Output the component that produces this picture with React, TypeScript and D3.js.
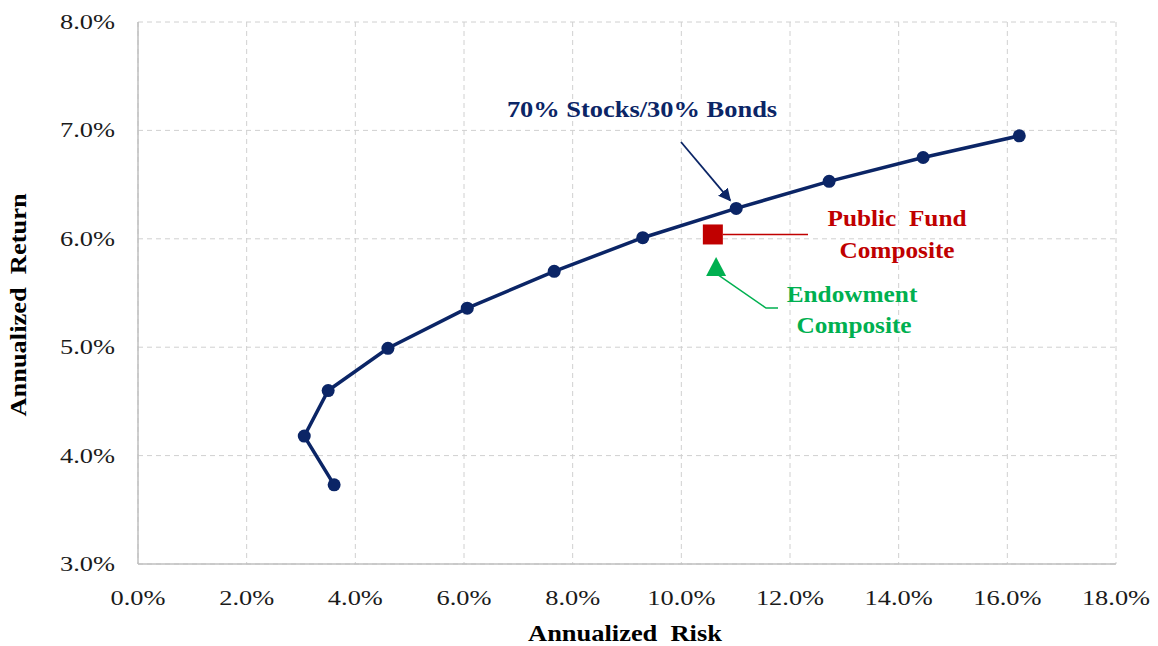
import React from "react";
import * as d3 from "d3";

const riskValues = [3.61, 3.06, 3.5, 4.6, 6.06, 7.66, 9.29, 11.01, 12.72, 14.45, 16.22];
const returnValues = [3.73, 4.18, 4.6, 4.99, 5.36, 5.7, 6.01, 6.28, 6.53, 6.75, 6.95];
const publicFund = { risk: 10.58, ret: 6.04 };
const endowment = { risk: 10.64, ret: 5.74 };
const xTicks = [0, 2, 4, 6, 8, 10, 12, 14, 16, 18];
const yTicks = [3, 4, 5, 6, 7, 8];

const W = 1158;
const H = 646;
const left = 138;
const right = 1116;
const top = 22;
const bottom = 564;
const navy = "#0b2566";
const red = "#c00000";
const green = "#00b050";
const font = "'Liberation Serif', 'Times New Roman', serif";

function T(props: {
  x: number;
  y: number;
  size: number;
  sx: number;
  anchor: string;
  fill: string;
  bold?: boolean;
  rotate?: number;
  children: string;
}) {
  const { x, y, size, sx, anchor, fill, bold, rotate, children } = props;
  return (
    <g transform={`translate(${x},${y}) rotate(${rotate || 0}) scale(${sx},1)`}>
      <text
        x={0}
        y={0}
        textAnchor={anchor}
        fontFamily={font}
        fontSize={size}
        fontWeight={bold ? "bold" : "normal"}
        fill={fill}
        style={{ whiteSpace: "pre" }}
      >
        {children}
      </text>
    </g>
  );
}

export default function App() {
  const x = d3.scaleLinear().domain([0, 18]).range([left, right]);
  const y = d3.scaleLinear().domain([3, 8]).range([bottom, top]);
  const pts = riskValues.map((r, i) => [x(r), y(returnValues[i])] as [number, number]);
  const line = d3.line().curve(d3.curveLinear)(pts) || "";

  const pfx = x(publicFund.risk);
  const pfy = y(publicFund.ret);
  const ex = x(endowment.risk);
  const ey = y(endowment.ret);
  const p8 = pts[7];

  const tri = `M${ex},${ey - 10} L${ex + 10},${ey + 9} L${ex - 10},${ey + 9} Z`;

  return (
    <svg width={W} height={H} style={{ position: "absolute", left: 0, top: 0, background: "#fff" }}>
      <defs>
        <marker id="arr" viewBox="0 0 10 10" refX="9" refY="5" markerWidth="7" markerHeight="7" orient="auto">
          <path d="M0,0 L10,5 L0,10 Z" fill={navy} />
        </marker>
      </defs>
      <rect x={0} y={0} width={W} height={H} fill="#fff" />
      {xTicks.map((t) => (
        <line key={"gx" + t} x1={x(t)} x2={x(t)} y1={top} y2={bottom} stroke="#d0d0d0" strokeDasharray="5,4" strokeWidth={1} />
      ))}
      {yTicks.map((t) => (
        <line key={"gy" + t} x1={left} x2={right} y1={y(t)} y2={y(t)} stroke="#d0d0d0" strokeDasharray="5,4" strokeWidth={1} />
      ))}
      <line x1={left} x2={left} y1={top} y2={bottom} stroke="#bfbfbf" strokeWidth={1.5} />
      <line x1={left} x2={right} y1={bottom} y2={bottom} stroke="#bfbfbf" strokeWidth={1.5} />
      {yTicks.map((t) => (
        <T key={"ty" + t} x={115} y={y(t) + 7} size={22} sx={1.2} anchor="end" fill="#1a1a1a">
          {t.toFixed(1) + "%"}
        </T>
      ))}
      {xTicks.map((t) => (
        <T key={"tx" + t} x={x(t)} y={605} size={22} sx={1.2} anchor="middle" fill="#1a1a1a">
          {t.toFixed(1) + "%"}
        </T>
      ))}
      <T x={625} y={641} size={23} sx={1.15} anchor="middle" fill="#000" bold>
        Annualized  Risk
      </T>
      <T x={26} y={305} size={23} sx={1.15} anchor="middle" fill="#000" bold rotate={-90}>
        Annualized  Return
      </T>
      <path d={line} fill="none" stroke={navy} strokeWidth={3.5} />
      {pts.map((p, i) => (
        <circle key={"pt" + i} cx={p[0]} cy={p[1]} r={6.5} fill={navy} />
      ))}
      <line x1={681} y1={142} x2={p8[0] - 6} y2={p8[1] - 8} stroke={navy} strokeWidth={1.8} markerEnd="url(#arr)" />
      <T x={642} y={117} size={23} sx={1.15} anchor="middle" fill={navy} bold>
        70% Stocks/30% Bonds
      </T>
      <line x1={pfx + 10} y1={pfy} x2={808} y2={pfy} stroke={red} strokeWidth={1.5} />
      <rect x={pfx - 10} y={pfy - 10} width={20} height={20} fill={red} />
      <T x={897} y={226} size={23} sx={1.1} anchor="middle" fill={red} bold>
        Public  Fund
      </T>
      <T x={897} y={258} size={23} sx={1.1} anchor="middle" fill={red} bold>
        Composite
      </T>
      <polyline points={`${ex + 2},${ey + 8} 766,308 778,308`} fill="none" stroke={green} strokeWidth={1.5} />
      <path d={tri} fill={green} />
      <T x={852} y={302} size={23} sx={1.1} anchor="middle" fill={green} bold>
        Endowment
      </T>
      <T x={854} y={333} size={23} sx={1.1} anchor="middle" fill={green} bold>
        Composite
      </T>
    </svg>
  );
}
